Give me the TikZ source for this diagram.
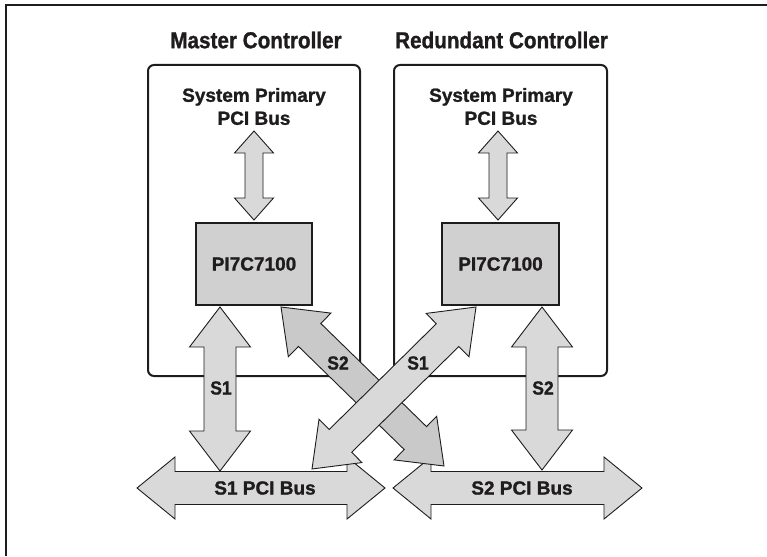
\documentclass[tikz,border=0pt]{standalone}
\usepackage{fontspec}
\setmainfont{Liberation Sans}[BoldFeatures={FakeBold=1.2}]
\usetikzlibrary{calc}
\definecolor{ink}{RGB}{30,28,29}
\definecolor{arrowfill}{RGB}{217,217,217}
\definecolor{arrowdark}{RGB}{201,201,201}
\definecolor{chipfill}{RGB}{208,208,208}
\tikzset{
  frameline/.style={line width=2pt, draw=ink},
  ctrlbox/.style={draw=ink, line width=2pt, rounded corners=6pt, minimum width=212pt, minimum height=311pt, inner sep=0pt},
  chip/.style={draw=ink, line width=2.4pt, fill=chipfill, minimum height=82pt, inner sep=0pt, text=ink, font=\bfseries\fontsize{19}{23}\selectfont},
  blk/.style={draw=ink, line width=0.9pt, fill=arrowfill, line join=miter},
  blkdark/.style={blk, fill=arrowdark},
  lbl/.style={font=\bfseries\fontsize{19}{23}\selectfont, text=ink, inner sep=0pt, align=center},
  ttl/.style={font=\bfseries\fontsize{23}{27}\selectfont, text=ink, inner sep=0pt}
}
% #1 style, #2 from, #3 to, #4 shaft half width, #5 head half width, #6 head length
\newcommand\blockarrow[6]{%
  \draw[#1] let \p1=(#2), \p2=(#3), \n1={atan2(\y2-\y1,\x2-\x1)}, \n2={veclen(\x2-\x1,\y2-\y1)} in
    [shift={(\p1)}, rotate=\n1]
    (0,0) -- (#6,#5) -- (#6,#4) -- ({\n2-#6},#4) -- ({\n2-#6},#5) -- (\n2,0)
    -- ({\n2-#6},-#5) -- ({\n2-#6},-#4) -- (#6,-#4) -- (#6,-#5) -- cycle;
}
\begin{document}
\begin{tikzpicture}[x=1pt,y=-1pt]
\useasboundingbox (0,0) rectangle (767,556);
% outer frame (top and left edges)
\draw[frameline] (6.2,556) -- (6.2,5.3) -- (767,5.3);

% controller boxes
\node[ctrlbox] (mbox) at (254,220.5) {};
\node[ctrlbox, minimum width=213pt] (rbox) at (500.5,220.5) {};

% titles
\node[ttl] (mtitle) at (256,40) {\scalebox{0.9}[1]{Master Controller}};
\node[ttl] (rtitle) at (501.5,40) {\scalebox{0.9}[1]{Redundant Controller}};

% system primary bus labels
\node[lbl] (mspb) at (254,106.5) {System Primary\\PCI Bus};
\node[lbl] (rspb) at (501,106.5) {System Primary\\PCI Bus};

% coordinates of arrow tips
\coordinate (mtopA) at (254,131);
\coordinate (mtopB) at (254,220);
\coordinate (rtopA) at (498,131);
\coordinate (rtopB) at (498,220);
\coordinate (s1vA) at (220,307);
\coordinate (s1vB) at (220,471);
\coordinate (s2vA) at (542,307);
\coordinate (s2vB) at (542,470);
\coordinate (s2dA) at (281,307);
\coordinate (s2dB) at (444,466);
\coordinate (s1dA) at (476,307);
\coordinate (s1dB) at (312,469);
\coordinate (s1busA) at (137,488);
\coordinate (s1busB) at (385,488);
\coordinate (s2busA) at (393,488);
\coordinate (s2busB) at (642,488);

% top arrows
\blockarrow{blk}{mtopA}{mtopB}{9}{19.5}{22}
\blockarrow{blk}{rtopA}{rtopB}{9}{19.5}{22}

% bridge chips
\node[chip, minimum width=116pt] (mchip) at (254,264) {PI7C7100};
\node[chip, minimum width=117pt] (rchip) at (500.5,264) {PI7C7100};

% secondary buses
\blockarrow{blk}{s1busA}{s1busB}{16.5}{31}{38}
\blockarrow{blk}{s2busA}{s2busB}{16.5}{31}{38}
\node[lbl] (s1buslbl) at (265,488) {S1 PCI Bus};
\node[lbl] (s2buslbl) at (522,488) {S2 PCI Bus};

% vertical arrows
\blockarrow{blk}{s1vA}{s1vB}{16}{30.5}{40}
\blockarrow{blk}{s2vA}{s2vB}{16}{30.5}{40}

% crossing arrows
\blockarrow{blkdark}{s2dA}{s2dB}{16}{30.5}{40}
\blockarrow{blk}{s1dA}{s1dB}{16}{30.5}{40}

% arrow labels
\node[lbl] (s1vlbl) at (221,388) {\scalebox{0.92}[1]{S1}};
\node[lbl] (s2vlbl) at (543,388) {\scalebox{0.92}[1]{S2}};
\node[lbl] (s2dlbl) at (338,363) {\scalebox{0.92}[1]{S2}};
\node[lbl] (s1dlbl) at (418,363) {\scalebox{0.92}[1]{S1}};
\end{tikzpicture}
\end{document}
